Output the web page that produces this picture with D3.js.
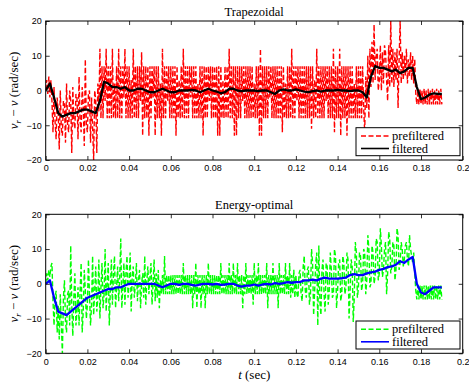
<!DOCTYPE html>
<html><head><meta charset="utf-8">
<script src="https://cdn.jsdelivr.net/npm/d3@7"></script>
<style>
body{margin:0;background:#fff;}
svg{display:block;}
.tick text{font-family:"Liberation Sans",Arial,sans-serif;font-size:9px;fill:#000;}
</style></head>
<body>
<script>
// ---- data ----
const xTicks = [0,0.02,0.04,0.06,0.08,0.1,0.12,0.14,0.16,0.18,0.2];
const xTickLabels = ["0","0.02","0.04","0.06","0.08","0.1","0.12","0.14","0.16","0.18","0.2"];
const yTicks = [-20,-10,0,10,20];
const yTickLabels = ["\u221220","\u221210","0","10","20"];
const titles = ["Trapezoidal","Energy-optimal"];
const legendLabels = ["prefiltered","filtered"];
const preStep = 0.0005;  // sample spacing of prefiltered series (s)
const filtStep = 0.002;  // sample spacing of filtered series (s)

const trapPrefiltered = [
 0, 3, -1, 4, -2, 3,
 -3,-12,1,-9,-14,-2,-6,-17,0,-11, -13,-3,-4,-15,2,-10,-12,0,-3,-18,
 1,-9,-11,-1,-2,-14,4,-9,-12,1, -4,-16,9,-10,-12,-1,0,-15,-2,-11, -20,0,-3,-18,2,-6,
 12,-8,7,-8,7,-3,12,-8,7,-8,7,-8,12,-8,2,-8,7,-8,12,-8,
 7,-8,7,-2,12,-8,7,-8,7,-8,3,-8,12,-8,7,-8,7,-8,7,-3,
 11,-13,7,-8,7,-8,7,-13,7,-8,7,-2,7,-13,7,-8,7,-8,2,-13,
 12,-8,7,-8,7,-3,7,-8,7,-8,7,-8,7,-13,7,-8,3,-8,7,-8,
 12,-8,7,-8,7,-8,7,-2,7,-8,7,-8,7,-8,2,-8,7,-8,7,-13,
 7,-8,7,-8,7,-3,7,-8,7,-8,7,-8,7,-13,7,-13,7,-8,3,-8,
 7,-8,7,-8,12,-8,7,-8,7,-13,7,-13,7,-8,7,-8,7,-3,7,-8,
 7,-8,7,-8,7,-8,7,-8,2,-8,7,-8,7,-13,12,-13,7,-8,7,-8,
 7,-8,7,-2,7,-8,7,-8,7,-8,7,-8,7,-8,7,-12,7,-8,2,-8,
 7,-8,7,-8,12,-8,7,-8,7,-3,7,-8,7,-8,7,-8,7,-8,7,-8,
 7,-8,7,-11,7,-8,3,-8,12,-8,7,-8,7,-8,7,-8,7,-3,7,-8,
 7,-8,7,-8,12,-12,7,-8,7,-8,12,-13,7,-8,7,-8,7,-13,7,-8,
 7,-8,7,-8,2,-8,7,-8,7,-8,7,-8,7,-5,
 -12,4,-5,10,-8,12,1,14,2,19,3,10,12,0,3,13,0,11,2,13,
 11,3,-3,13,1,20,2,12,1,11,3,12,-5,9,20,2,11,3,10,4,
 12,2,9,4,11,3,10,2,9,-1,
 -4,0,-4,0.5,-4,0,-4,0.5,-4,0,-4,0.5,-4,0,-4,0.5,-4,0,-4,0.5,-4,0,-4,0.5,-4
];
const trapFiltered = [
 0, 2, -2, -6.5, -7.5, -7, -6.5, -6.5, -6, -5.5,
 -5.5, -6, -6.5, -3, 2.5, 2, 1, 1, 0.5, 1,
 0, 0, 0.5, 0.5, 0, -0.5, -0.5, 0, 0.5, 0,
 -0.5, -0.5, 0, 0, 0, 0.2, 0, -0.5, 0, 0.5,
 0, -0.3, -0.8, -0.5, 0.5, 0.5, 0, -0.2, 0, 0,
 0, -0.2, 0, 0, -0.5, -1, 0, 0.3, 0, 0,
 0.3, 0, -0.3, -0.5, -0.2, 0, -0.3, 0, 0, 0,
 0.2, 0, 0, -0.2, 0, 0, -0.5, -2, 4, 7,
 6.5, 6.5, 6, 5.5, 6, 5, 5.5, 6.5, 6.5, 1,
 -2.5, -2, -1.2, -0.8, -1, -1
];
const energyPrefiltered = [
 0, 3, 1, 4, 2, 5,
 6,-5,-12,-4,-2,-14,-6,-16,-3,-12,-20,-4,1,-11,-14,-3,-2,-12,11,-6,
 -15,-4,3,-12,-8,-1,-12,-2,6,-14,-8,4,-2,-10,-6,7,-3,-12,-6,8,
 -9,-2,5,-8,-4,7,-10,-1,6,-7,-3,10,-8,0,6,-12,-2,7,-6,3,
 8,-7,-1,5,-5,2,13,-7,-1,6,-6,3,8,-4,0,9,-8,2,5,-4,
 0,6,-5,1,4,-7,0,3,-4,8,-6,1,5,-3,2,6,-6,0,7,-5,
 3,-4,4,-7,1,-3,
 2.5,-3,8,-3,2.5,-3,2.5,-3,2.5,-3,2.5,-3,2.5,-3,2.5,-3,2.5,-3,2.5,-3,
 6,-3,2.5,-3,2.5,-3,2.5,-3,2.5,-7,2.5,-3,6,-7,2.5,-3,2.5,-7,2.5,-3,
 2.5,-7,2.5,-3,6,-3,2.5,-3,2.5,-3,2.5,-3,2.5,-3,2.5,-3,6,-3,2.5,-3,
 2.5,-3,2.5,-3,6,-3,2.5,-3,6,-3,2.5,-3,6,-3,2.5,-3,2.5,-7,2.5,-3,
 6,-3,2.5,-3,2.5,-3,2.5,-6,6,-3,2.5,-3,6,-3,2.5,-3,2.5,-3,2.5,-3,
 6,-7,2.5,-3,2.5,-3,6,-3,2.5,-3,2.5,-7,6,-3,2.5,-3,2.5,-3,6,-3,
 2.5,-3,6,-4,2.5,-3,4,-4,2.5,-3,
 -4,3,4,-3,-5,5,8,-2,-4,4,5,-6,-3,10,6,-9,-2,6,9,-12,
 11,-5,-9,4,7,-3,-8,6,5,-6,-2,9,4,-4,-3,10,8,-7,-2,6,
 7,-5,-3,8,6,-3,-1,9,7,-10,-2,7,5,-11,-4,12,9,-4,-1,9,
 8,-2,0,10,9,-3,1,14,10,-1,0,11,9,0,2,13,12,1,3,16,
 11,2,4,10,12,-3,3,15,13,3,5,12,11,1,4,16,14,4,6,12,
 10,5,7,11,12,7,5,14,10,8,6,9,
 3,-2,-4.5,-0.5,-4.5,-0.5,-4.5,-0.5,-4.5,-0.5,-4.5,-0.5,-4.5,-0.5,-4.5,-0.5,-4.5,-0.5,-4.5,-0.5,-4.5,-0.5,-4.5,-0.5,-4.5,-0.5,-4.5
];
const energyFiltered = [
 0, 1, -4, -8, -8.5, -9, -8, -7, -6, -5,
 -4, -3.5, -3, -2.5, -2, -1.5, -1.5, -1, -1, -0.5,
 0, 0, 0, 0, 0, 0, 0, -0.5, -1, -0.5,
 0, 0, -0.3, 0, 0, -0.3, -0.5, -0.2, 0, 0,
 -0.2, 0, -0.3, -0.2, 0, 0, -0.5, -0.8, -0.5, -0.5,
 -0.2, -0.5, -0.2, 0, -0.2, 0.2, 0, 0.2, 0.5, 0.3,
 0.5, 0.5, 1, 1, 1.2, 1, 1.5, 1.8, 1.5, 1.5,
 1.5, 1.6, 1.8, 2.5, 2.8, 2.5, 2.5, 3, 3.3, 3.5,
 4, 4.3, 4.8, 5, 5.5, 6.5, 6, 7, 7.7, 0,
 -2.5, -3, -2, -1, -1, -1
];

// ---- layout ----
const W = 469, H = 390;
const svg = d3.select("body").append("svg").attr("width", W).attr("height", H);
const left = 45.7, right = 462.7;
const panels = [
  {top: 21, bottom: 160, title: titles[0], pre: trapPrefiltered, filt: trapFiltered, preColor: "#ff0000", filtColor: "#000000"},
  {top: 214.3, bottom: 353.3, title: titles[1], pre: energyPrefiltered, filt: energyFiltered, preColor: "#00ff00", filtColor: "#0000ff"}
];
const x = d3.scaleLinear().domain([0, 0.2]).range([left, right]);
const serif = "'Liberation Serif','DejaVu Serif',serif";

panels.forEach((p, i) => {
  const y = d3.scaleLinear().domain([-20, 20]).range([p.bottom, p.top]);
  const g = svg.append("g");
  const cid = "clip" + i;
  svg.append("clipPath").attr("id", cid).append("rect")
    .attr("x", left).attr("y", p.top).attr("width", right - left).attr("height", p.bottom - p.top);

  const line = d3.line().x(d => x(d[0])).y(d => y(d[1]));
  const preData = p.pre.map((v, k) => [k * preStep, v]);
  const filtData = p.filt.map((v, k) => [k * filtStep, v]);

  const plot = g.append("g").attr("clip-path", `url(#${cid})`);
  plot.append("path").datum(preData).attr("d", line)
    .attr("fill", "none").attr("stroke", p.preColor).attr("stroke-width", 1.4)
    .attr("stroke-dasharray", "5,2.5");
  plot.append("path").datum(filtData).attr("d", line)
    .attr("fill", "none").attr("stroke", p.filtColor).attr("stroke-width", 2.3)
    .attr("stroke-linejoin", "round");

  // axes
  const fmtX = d => xTickLabels[xTicks.indexOf(d)];
  const fmtY = d => yTickLabels[yTicks.indexOf(d)];
  const ax = g.append("g").attr("transform", `translate(0,${p.bottom})`)
    .call(d3.axisBottom(x).tickValues(xTicks).tickFormat(fmtX).tickSizeInner(-4).tickSizeOuter(0).tickPadding(5));
  const axT = g.append("g").attr("transform", `translate(0,${p.top})`)
    .call(d3.axisTop(x).tickValues(xTicks).tickFormat("").tickSizeInner(-4).tickSizeOuter(0));
  const ay = g.append("g").attr("transform", `translate(${left},0)`)
    .call(d3.axisLeft(y).tickValues(yTicks).tickFormat(fmtY).tickSizeInner(-4).tickSizeOuter(0).tickPadding(4));
  const ayR = g.append("g").attr("transform", `translate(${right},0)`)
    .call(d3.axisRight(y).tickValues(yTicks).tickFormat("").tickSizeInner(-4).tickSizeOuter(0));
  [ax, axT, ay, ayR].forEach(a => { a.select(".domain").remove(); a.selectAll("line").attr("stroke", "#000").attr("stroke-width", 0.8); });
  g.append("rect").attr("x", left).attr("y", p.top).attr("width", right - left).attr("height", p.bottom - p.top)
    .attr("fill", "none").attr("stroke", "#000").attr("stroke-width", 1);

  // title
  g.append("text").attr("x", (left + right) / 2).attr("y", p.top - 5)
    .attr("text-anchor", "middle").attr("font-family", serif).attr("font-size", 12.5).text(p.title);

  // y label
  const yl = g.append("text").attr("transform", `translate(18,${(p.top + p.bottom) / 2}) rotate(-90)`)
    .attr("text-anchor", "middle").attr("font-family", serif).attr("font-size", 13);
  yl.append("tspan").attr("font-style", "italic").text("v");
  yl.append("tspan").attr("font-style", "italic").attr("font-size", 9).attr("dy", 3).text("r");
  yl.append("tspan").attr("dy", -3).text(" \u2212 ");
  yl.append("tspan").attr("font-style", "italic").text("v");
  yl.append("tspan").text(" (rad/sec)");

  // legend
  const lx = 356, ly = p.bottom - 32.3, lw = 104, lh = 28;
  const lg = g.append("g");
  lg.append("rect").attr("x", lx).attr("y", ly).attr("width", lw).attr("height", lh)
    .attr("fill", "#fff").attr("stroke", "#000").attr("stroke-width", 1);
  const items = [
    {label: legendLabels[0], color: p.preColor, w: 1.4, dash: "5,2.5"},
    {label: legendLabels[1], color: p.filtColor, w: 1.6, dash: null}
  ];
  items.forEach((it, k) => {
    const cy = ly + 8.3 + k * 12.5;
    lg.append("line").attr("x1", lx + 5).attr("x2", lx + 33).attr("y1", cy).attr("y2", cy)
      .attr("stroke", it.color).attr("stroke-width", it.w).attr("stroke-dasharray", it.dash);
    lg.append("text").attr("x", lx + 36).attr("y", cy + 4).attr("font-family", serif)
      .attr("font-size", 12.5).text(it.label);
  });
});

// x label
const xl = svg.append("text").attr("x", (left + right) / 2).attr("y", 379)
  .attr("text-anchor", "middle").attr("font-family", serif).attr("font-size", 13);
xl.append("tspan").attr("font-style", "italic").text("t");
xl.append("tspan").text(" (sec)");
</script>
</body></html>
